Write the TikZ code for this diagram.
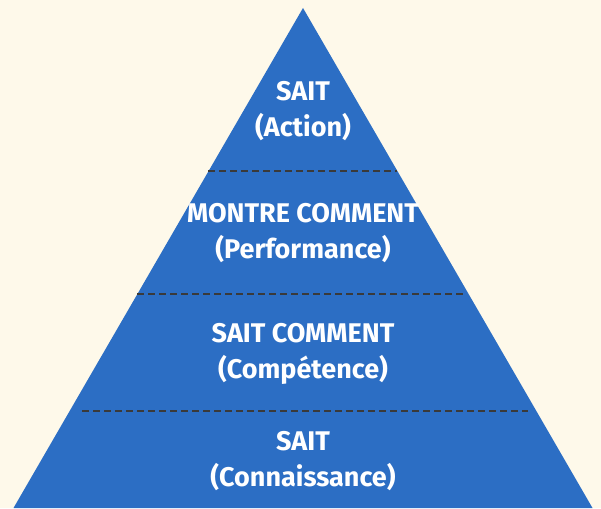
\documentclass[tikz,border=0pt]{standalone}
\usepackage{fontspec}
\setmainfont{Fira Sans}
\definecolor{bgc}{HTML}{FEF9EA}
\definecolor{pyr}{HTML}{2C6EC4}
\definecolor{dashc}{HTML}{3A3A3A}
\begin{document}
\begin{tikzpicture}[x=1pt,y=-1pt,
  tier/.style={text=white,font=\fontsize{27}{36}\selectfont\bfseries,align=center,anchor=base,inner sep=0pt},
  sep/.style={draw=dashc,line width=2.4pt,dash pattern=on 7pt off 4pt}]
\fill[bgc] (0,0) rectangle (601,508);
\useasboundingbox (0,0) rectangle (601,508);
\fill[pyr] (303,8) -- (592.5,508) -- (13.5,508) -- cycle;
\coordinate (l1a) at (208,171); \coordinate (l1b) at (397,171);
\coordinate (l2a) at (137,294); \coordinate (l2b) at (464,294);
\coordinate (l3a) at (82,411); \coordinate (l3b) at (528,411);
\draw[sep] (l1a) -- (l1b);
\draw[sep] (l2a) -- (l2b);
\draw[sep] (l3a) -- (l3b);
\node[tier] (t1) at (303,136) {SAIT\\(Action)};
\node[tier] (t2) at (303,258) {MONTRE COMMENT\\(Performance)};
\node[tier] (t3) at (303,378) {SAIT COMMENT\\(Compétence)};
\node[tier] (t4) at (303,486) {SAIT\\(Connaissance)};
\end{tikzpicture}
\end{document}
